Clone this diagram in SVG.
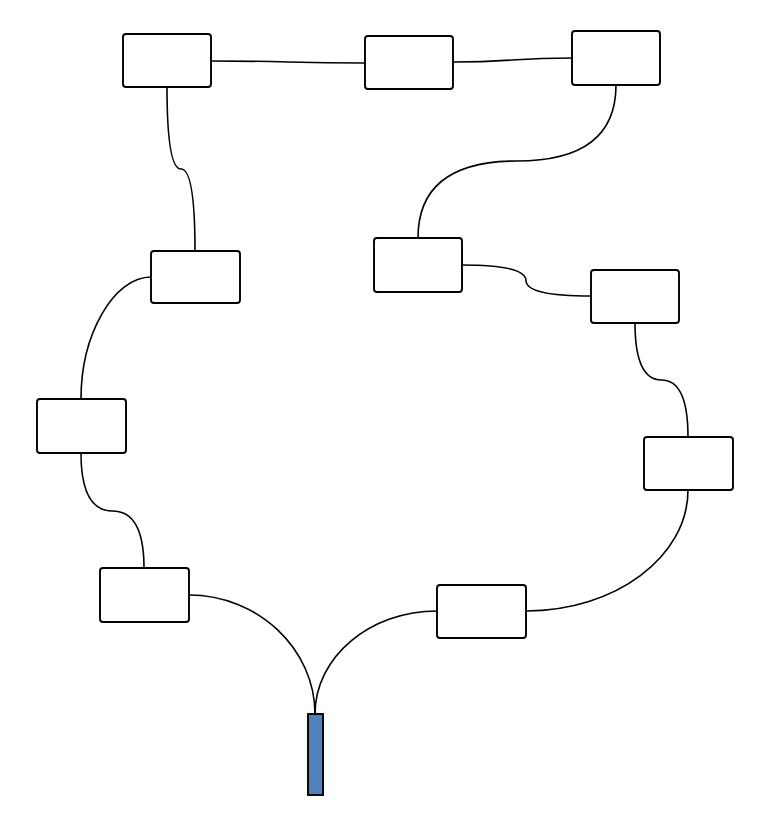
<svg xmlns="http://www.w3.org/2000/svg" width="781" height="835" viewBox="0 0 781 835">
<style>
.node{fill:#fff;stroke:#000;stroke-width:1.9}
.link{fill:none;stroke:#000;stroke-width:1.6}
.src{fill:#4f81bd;stroke:#000;stroke-width:1.9}
</style>
<rect width="781" height="835" fill="#fff"/>
<g id="connectors">
<path class="link" d="M211,61 C288,61 288,63 365,63"/>
<path class="link" d="M453,62 C512,62 512,58 572,58"/>
<path class="link" d="M167,87 Q167,169 181,169 Q195,169 195,251"/>
<path class="link" d="M616,85 Q616,161 517,161 Q418,161 418,238"/>
<path class="link" d="M462,265 Q526,265 526,280.5 Q526,296 591,296"/>
<path class="link" d="M635,323 Q635,380 661.5,380 Q688,380 688,437"/>
<path class="link" d="M688,490 C688,557 615,611 526,611"/>
<path class="link" d="M437,611 C370,611 315,657 315,714"/>
<path class="link" d="M189,595 C258,595 315,649 315,714"/>
<path class="link" d="M81,453 Q81,511 112.5,511 Q144,511 144,568"/>
<path class="link" d="M151,277 C114,277 81,334 81,399"/>
</g>
<g id="n1"><rect class="node" x="123" y="34" width="88" height="53" rx="3"/></g>
<g id="n2"><rect class="node" x="365" y="36" width="88" height="53" rx="3"/></g>
<g id="n3"><rect class="node" x="572" y="31" width="88" height="54" rx="3"/></g>
<g id="n4"><rect class="node" x="151" y="251" width="89" height="52" rx="3"/></g>
<g id="n5"><rect class="node" x="374" y="238" width="88" height="54" rx="3"/></g>
<g id="n6"><rect class="node" x="591" y="270" width="88" height="53" rx="3"/></g>
<g id="n7"><rect class="node" x="37" y="399" width="89" height="54" rx="3"/></g>
<g id="n8"><rect class="node" x="644" y="437" width="89" height="53" rx="3"/></g>
<g id="n9"><rect class="node" x="100" y="568" width="89" height="54" rx="3"/></g>
<g id="n10"><rect class="node" x="437" y="585" width="89" height="53" rx="3"/></g>
<g id="source"><rect class="src" x="308" y="714" width="15" height="81"/></g>
</svg>
